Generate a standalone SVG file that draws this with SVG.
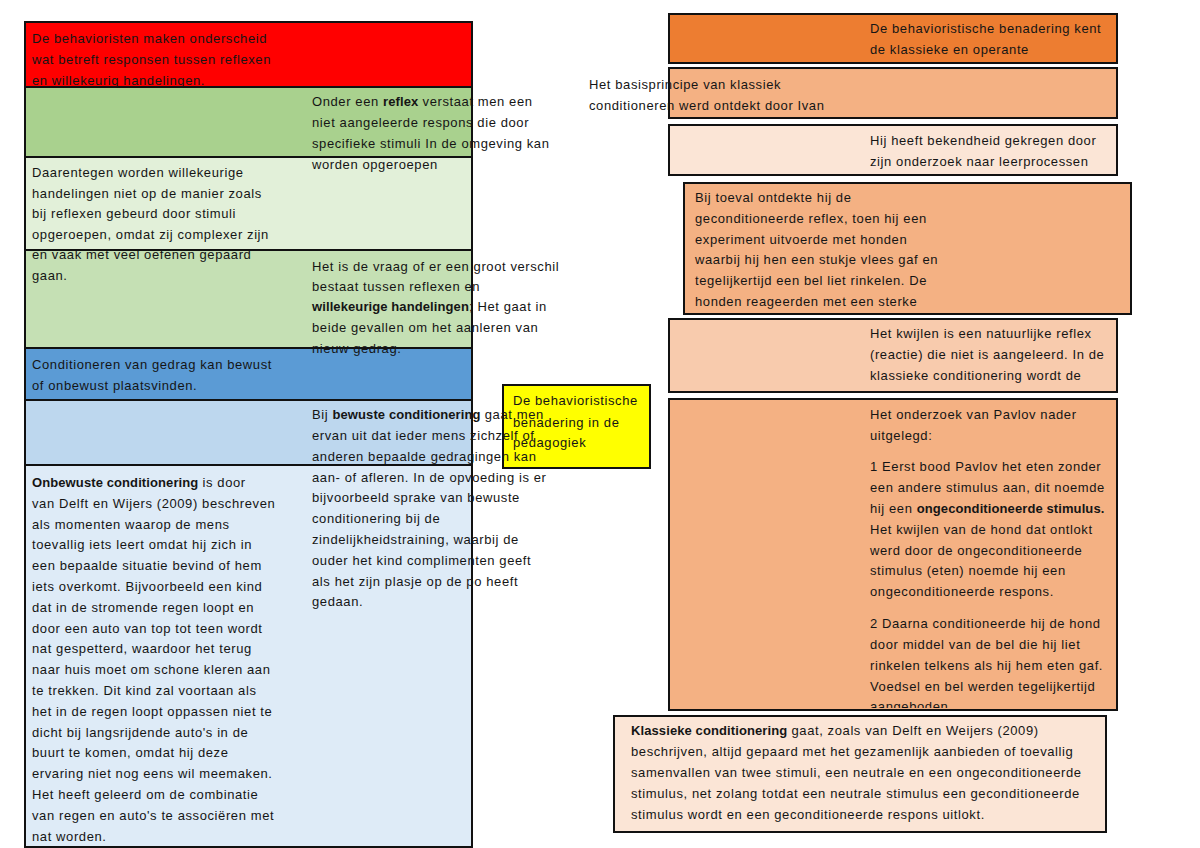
<svg xmlns="http://www.w3.org/2000/svg" width="1200" height="848" viewBox="0 0 1200 848">
<style>
.t{font-family:"Liberation Sans",Arial,sans-serif;font-size:13px;fill:#151515;letter-spacing:0.6px}
.b{font-weight:bold;letter-spacing:0.1px}
.box{stroke:#111;stroke-width:2}
</style>
<defs>
<clipPath id="clipF"><rect x="669" y="399" width="448" height="309"/></clipPath>
</defs>
<rect width="1200" height="848" fill="#fff"/>
<g id="connectors"/>

<g id="node-yellow">
<rect class="box" x="503" y="385" width="147" height="83" fill="#ffff00"/>
<text class="t"><tspan x="513" y="405">De behavioristische</tspan><tspan x="513" y="427">benadering in de</tspan><tspan x="513" y="447">pedagogiek</tspan></text>
</g>

<g id="node-onbewust">
<rect class="box" x="25" y="465" width="447" height="382" fill="#deebf7"/>
<text class="t">
<tspan x="32" y="487"><tspan class="b">Onbewuste conditionering</tspan> is door</tspan>
<tspan x="32" y="508">van Delft en Wijers (2009) beschreven</tspan>
<tspan x="32" y="529">als momenten waarop de mens</tspan>
<tspan x="32" y="549">toevallig iets leert omdat hij zich in</tspan>
<tspan x="32" y="570">een bepaalde situatie bevind of hem</tspan>
<tspan x="32" y="591">iets overkomt. Bijvoorbeeld een kind</tspan>
<tspan x="32" y="612">dat in de stromende regen loopt en</tspan>
<tspan x="32" y="633">door een auto van top tot teen wordt</tspan>
<tspan x="32" y="653">nat gespetterd, waardoor het terug</tspan>
<tspan x="32" y="674">naar huis moet om schone kleren aan</tspan>
<tspan x="32" y="695">te trekken. Dit kind zal voortaan als</tspan>
<tspan x="32" y="716">het in de regen loopt oppassen niet te</tspan>
<tspan x="32" y="737">dicht bij langsrijdende auto's in de</tspan>
<tspan x="32" y="757">buurt te komen, omdat hij deze</tspan>
<tspan x="32" y="778">ervaring niet nog eens wil meemaken.</tspan>
<tspan x="32" y="799">Het heeft geleerd om de combinatie</tspan>
<tspan x="32" y="820">van regen en auto's te associëren met</tspan>
<tspan x="32" y="841">nat worden.</tspan>
</text>
</g>

<g id="node-bewust">
<rect class="box" x="25" y="400" width="447" height="65" fill="#bdd7ee"/>
<text class="t">
<tspan x="312" y="419">Bij <tspan class="b">bewuste conditionering</tspan> gaat men</tspan>
<tspan x="312" y="440">ervan uit dat ieder mens zichzelf of</tspan>
<tspan x="312" y="461">anderen bepaalde gedragingen kan</tspan>
<tspan x="312" y="482">aan- of afleren. In de opvoeding is er</tspan>
<tspan x="312" y="502">bijvoorbeeld sprake van bewuste</tspan>
<tspan x="312" y="523">conditionering bij de</tspan>
<tspan x="312" y="544">zindelijkheidstraining, waarbij de</tspan>
<tspan x="312" y="565">ouder het kind complimenten geeft</tspan>
<tspan x="312" y="586">als het zijn plasje op de po heeft</tspan>
<tspan x="312" y="606">gedaan.</tspan>
</text>
</g>

<g id="node-conditioneren">
<rect class="box" x="25" y="348" width="447" height="52" fill="#5b9bd5"/>
<text class="t"><tspan x="32" y="369">Conditioneren van gedrag kan bewust</tspan><tspan x="32" y="390">of onbewust plaatsvinden.</tspan></text>
</g>

<g id="node-vraag">
<rect class="box" x="25" y="250" width="447" height="98" fill="#c5e0b4"/>
<text class="t">
<tspan x="312" y="271">Het is de vraag of er een groot verschil</tspan>
<tspan x="312" y="291">bestaat tussen reflexen en</tspan>
<tspan x="312" y="311"><tspan class="b">willekeurige handelingen</tspan>; Het gaat in</tspan>
<tspan x="312" y="332">beide gevallen om het aanleren van</tspan>
<tspan x="312" y="353">nieuw gedrag.</tspan>
</text>
</g>

<g id="node-willekeurig">
<rect class="box" x="25" y="157" width="447" height="93" fill="#e2f0d9"/>
<text class="t">
<tspan x="32" y="177">Daarentegen worden willekeurige</tspan>
<tspan x="32" y="198">handelingen niet op de manier zoals</tspan>
<tspan x="32" y="218">bij reflexen gebeurd door stimuli</tspan>
<tspan x="32" y="239">opgeroepen, omdat zij complexer zijn</tspan>
<tspan x="32" y="259">en vaak met veel oefenen gepaard</tspan>
<tspan x="32" y="280">gaan.</tspan>
</text>
</g>

<g id="node-reflex">
<rect class="box" x="25" y="87" width="447" height="70" fill="#a9d18e"/>
<text class="t">
<tspan x="312" y="106">Onder een <tspan class="b">reflex</tspan> verstaat men een</tspan>
<tspan x="312" y="127">niet aangeleerde respons die door</tspan>
<tspan x="312" y="148">specifieke stimuli In de omgeving kan</tspan>
<tspan x="312" y="169">worden opgeroepen</tspan>
</text>
</g>

<g id="node-behavioristen">
<rect class="box" x="25" y="22" width="447" height="65" fill="#ff0000"/>
<text class="t"><tspan x="32" y="43">De behavioristen maken onderscheid</tspan><tspan x="32" y="64">wat betreft responsen tussen reflexen</tspan><tspan x="32" y="85">en willekeurig handelingen.</tspan></text>
</g>

<g id="node-kent">
<rect class="box" x="669" y="14" width="448" height="49" fill="#ed7d31"/>
<text class="t"><tspan x="870" y="33">De behavioristische benadering kent</tspan><tspan x="870" y="54">de klassieke en operante</tspan></text>
</g>

<g id="node-basisprincipe">
<rect class="box" x="669" y="68" width="448" height="50" fill="#f4b183"/>
<text class="t"><tspan x="589" y="89">Het basisprincipe van klassiek</tspan><tspan x="589" y="110">conditioneren werd ontdekt door Ivan</tspan></text>
</g>

<g id="node-bekendheid">
<rect class="box" x="669" y="125" width="448" height="50" fill="#fbe5d6"/>
<text class="t"><tspan x="870" y="145">Hij heeft bekendheid gekregen door</tspan><tspan x="870" y="166">zijn onderzoek naar leerprocessen</tspan></text>
</g>

<g id="node-toeval">
<rect class="box" x="684" y="183" width="447" height="131" fill="#f4b183"/>
<text class="t">
<tspan x="695" y="202">Bij toeval ontdekte hij de</tspan>
<tspan x="695" y="223">geconditioneerde reflex, toen hij een</tspan>
<tspan x="695" y="244">experiment uitvoerde met honden</tspan>
<tspan x="695" y="264">waarbij hij hen een stukje vlees gaf en</tspan>
<tspan x="695" y="285">tegelijkertijd een bel liet rinkelen. De</tspan>
<tspan x="695" y="306">honden reageerden met een sterke</tspan>
</text>
</g>

<g id="node-kwijlen">
<rect class="box" x="669" y="319" width="448" height="73" fill="#f8cbad"/>
<text class="t"><tspan x="870" y="338">Het kwijlen is een natuurlijke reflex</tspan><tspan x="870" y="359">(reactie) die niet is aangeleerd. In de</tspan><tspan x="870" y="380">klassieke conditionering wordt de</tspan></text>
</g>

<g id="node-pavlov">
<rect class="box" x="669" y="399" width="448" height="311" fill="#f4b183"/>
<text class="t" clip-path="url(#clipF)">
<tspan x="870" y="419">Het onderzoek van Pavlov nader</tspan>
<tspan x="870" y="440">uitgelegd:</tspan>
<tspan x="870" y="471">1 Eerst bood Pavlov het eten zonder</tspan>
<tspan x="870" y="492">een andere stimulus aan, dit noemde</tspan>
<tspan x="870" y="513">hij een <tspan class="b">ongeconditioneerde stimulus.</tspan></tspan>
<tspan x="870" y="534">Het kwijlen van de hond dat ontlokt</tspan>
<tspan x="870" y="555">werd door de ongeconditioneerde</tspan>
<tspan x="870" y="575">stimulus (eten) noemde hij een</tspan>
<tspan x="870" y="596">ongeconditioneerde respons.</tspan>
<tspan x="870" y="628">2 Daarna conditioneerde hij de hond</tspan>
<tspan x="870" y="649">door middel van de bel die hij liet</tspan>
<tspan x="870" y="670">rinkelen telkens als hij hem eten gaf.</tspan>
<tspan x="870" y="691">Voedsel en bel werden tegelijkertijd</tspan>
<tspan x="870" y="711">aangeboden</tspan>
</text>
<rect x="669" y="399" width="448" height="311" fill="none" class="box"/>
</g>

<g id="node-klassieke">
<rect class="box" x="614" y="716" width="492" height="116" fill="#fbe5d6"/>
<text class="t">
<tspan x="631" y="735"><tspan class="b">Klassieke conditionering</tspan> gaat, zoals van Delft en Weijers (2009)</tspan>
<tspan x="631" y="756">beschrijven, altijd gepaard met het gezamenlijk aanbieden of toevallig</tspan>
<tspan x="631" y="777">samenvallen van twee stimuli, een neutrale en een ongeconditioneerde</tspan>
<tspan x="631" y="798">stimulus, net zolang totdat een neutrale stimulus een geconditioneerde</tspan>
<tspan x="631" y="819">stimulus wordt en een geconditioneerde respons uitlokt.</tspan>
</text>
</g>
</svg>
